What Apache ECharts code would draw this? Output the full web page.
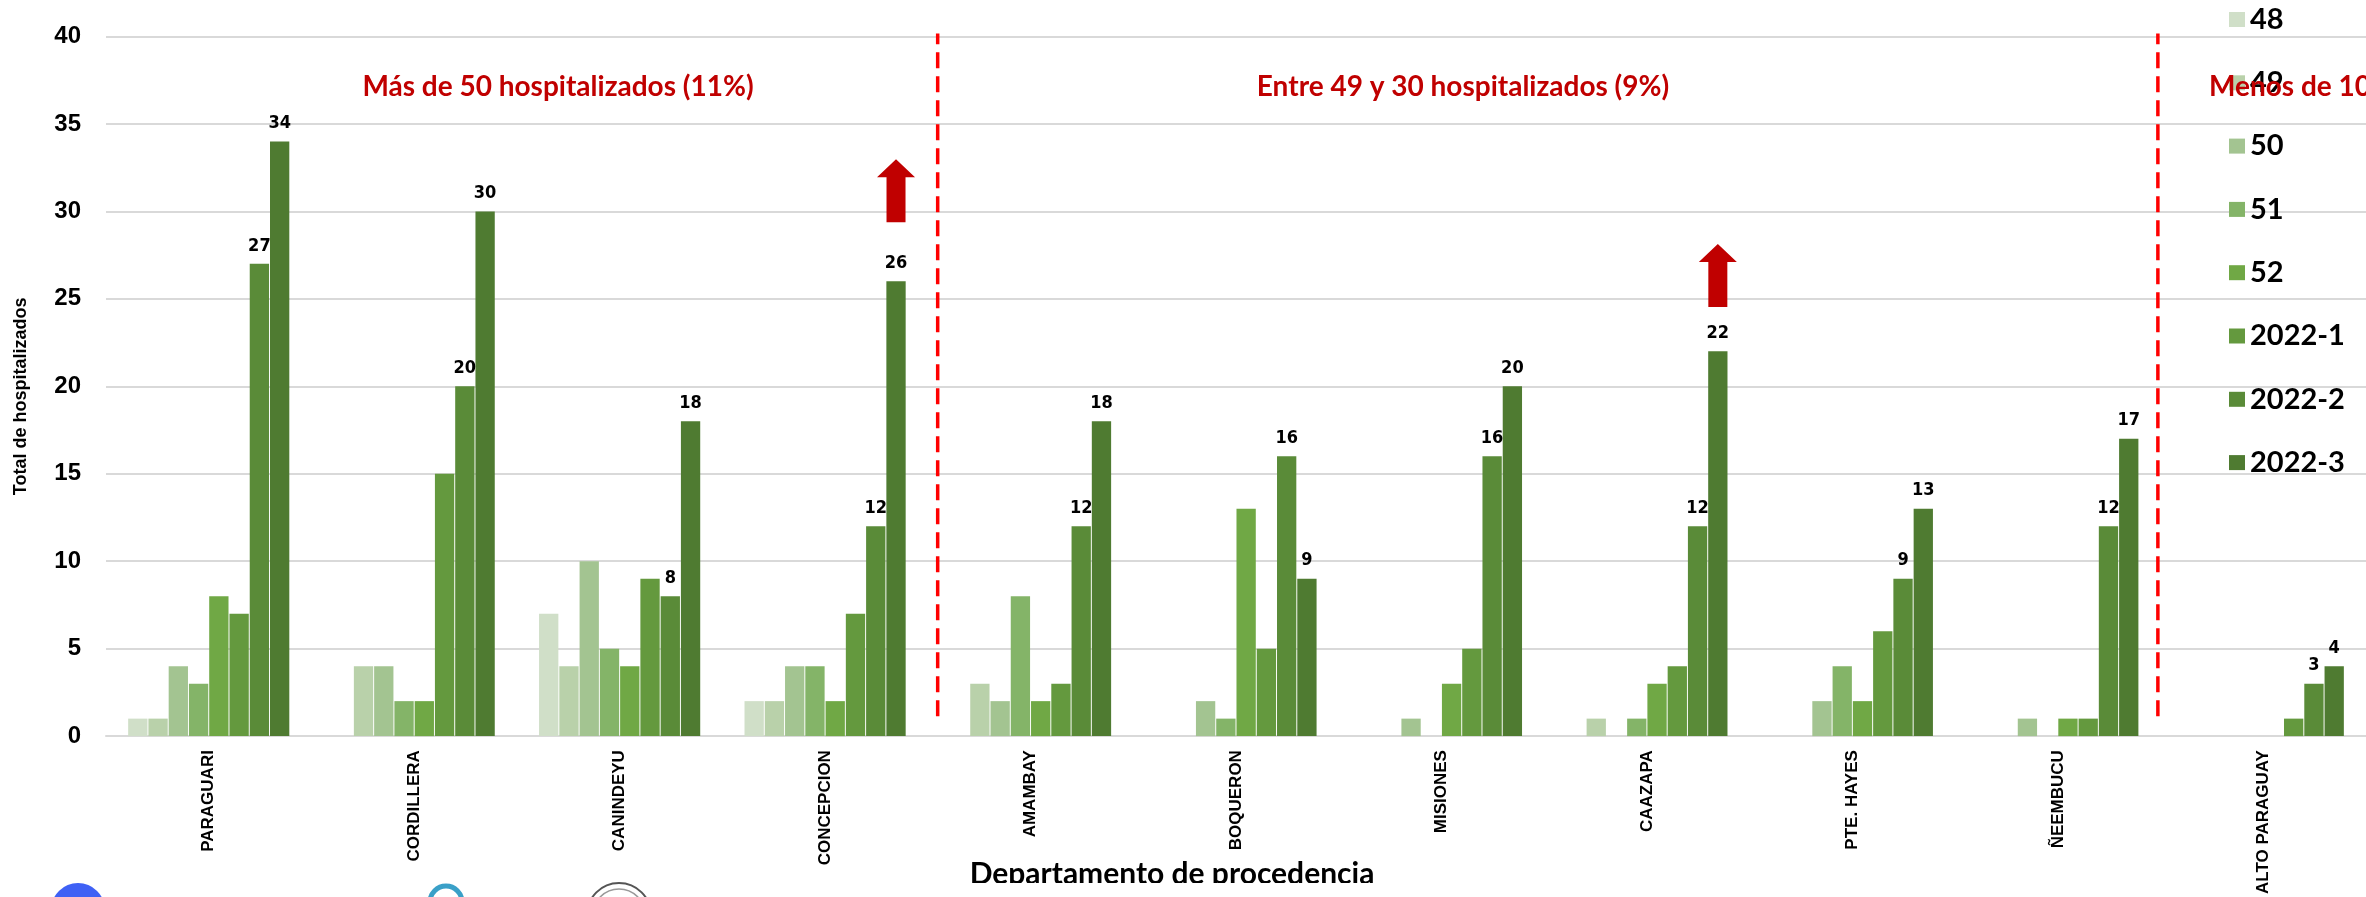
<!DOCTYPE html>
<html><head><meta charset="utf-8">
<script src="https://cdn.jsdelivr.net/npm/echarts@6/dist/echarts.min.js"></script>
<style>html,body{margin:0;padding:0;background:#fff}#c{width:2366px;height:897px}</style>
</head><body><div id="c"></div>
<script>
const categories = ['PARAGUARI','CORDILLERA','CANINDEYU','CONCEPCION','AMAMBAY','BOQUERON','MISIONES','CAAZAPA','PTE. HAYES','ÑEEMBUCU','ALTO PARAGUAY'];
const seriesNames = ['48','49','50','51','52','2022-1','2022-2','2022-3'];
const s48    = [1,0,7,2,0,0,0,0,0,0,0];
const s49    = [1,4,4,2,3,0,0,1,0,0,0];
const s50    = [4,4,10,4,2,2,1,0,2,1,0];
const s51    = [3,2,5,4,8,1,0,1,4,0,0];
const s52    = [8,2,4,2,2,13,3,3,2,1,0];
const s2022_1 = [7,15,9,7,3,5,5,4,6,1,1];
const s2022_2 = [27,20,8,12,12,16,16,12,9,12,3];
const s2022_3 = [34,30,18,26,18,9,20,22,13,17,4];
const seriesColors = ['#d0dfc8','#b9d1aa','#a3c491','#84b468','#70a845','#64993e','#5a8b38','#4f7b31'];
const labelledSeries = ['2022-2','2022-3'];
const yMin = 0, yMax = 40, yStep = 5;
const arrowPoints = [['CONCEPCION', 31.18], ['CAAZAPA', 26.33]];
const dividerX = [3.548, 9.487];
const dividerY = [1.14, 40.17];
const groupNotes = [
  {text:'Más de 50 hospitalizados (11%)', x:558, align:'center'},
  {text:'Entre 49 y 30 hospitalizados (9%)', x:1463, align:'center'},
  {text:'Menos de 10 hospitalizados', x:2209, align:'left'}
];

const allValues = [s48,s49,s50,s51,s52,s2022_1,s2022_2,s2022_3];
const narrow = "'Liberation Sans Narrow','DejaVu Sans Condensed','Arial Narrow',sans-serif";
const arrowPath = 'path://M19 0 L38 18 L28.5 18 L28.5 63 L9.5 63 L9.5 18 L0 18 Z';

const series = seriesNames.map((n,i)=>{
  const s = {
    name:n, type:'bar', data:allValues[i], xAxisIndex:0, yAxisIndex:0,
    barWidth:19.3, barGap:'5%',
    itemStyle:{color:seriesColors[i]},
    label:{show:labelledSeries.includes(n), position:'top', distance:9,
      fontFamily:narrow, fontWeight:'bold', fontSize:18, color:'#000'}
  };
  if (n === '2022-3') {
    s.markPoint = {
      symbol: arrowPath, symbolSize:[38,63], silent:true,
      itemStyle:{color:'#c00000'}, label:{show:false},
      data: arrowPoints.map(p=>({coord:p}))
    };
  }
  return s;
});
dividerX.forEach(x=>{
  series.push({
    type:'line', xAxisIndex:1, yAxisIndex:0, clip:false, silent:true,
    symbol:'none', z:5,
    lineStyle:{color:'#ff0000', width:3.5, type:[16,8]},
    data: dividerY.map(y=>[x, y])
  });
});

const graphics = groupNotes.map(g=>({
  type:'text', x:g.x, y:87, z:100,
  style:{text:g.text, fill:'#c00000', font:"bold 28px Lato", align:g.align, verticalAlign:'middle'}
}));
graphics.push({type:'text', x:1172, y:874, z:90,
  style:{text:'Departamento de procedencia', fill:'#000', font:"bold 30px Lato", align:'center', verticalAlign:'middle'}});
graphics.push({type:'rect', shape:{x:0,y:883,width:1500,height:14}, style:{fill:'#fff'}, z:95});
graphics.push({type:'circle', shape:{cx:78,cy:910,r:27}, style:{fill:'#3f61f5'}, z:96});
graphics.push({type:'circle', shape:{cx:446,cy:902,r:16}, style:{fill:'#fff', stroke:'#3aa0c8', lineWidth:5}, z:96});
graphics.push({type:'circle', shape:{cx:619,cy:915,r:32}, style:{fill:'#fff', stroke:'#555', lineWidth:2}, z:96});
graphics.push({type:'circle', shape:{cx:619,cy:915,r:26}, style:{fill:'none', stroke:'#999', lineWidth:1.5}, z:96});

const chart = echarts.init(document.getElementById('c'));
chart.setOption({
  animation:false,
  backgroundColor:'#fff',
  grid:{left:106, top:36.5, width:2264, height:701.5, containLabel:false},
  legend:{
    data:seriesNames, orient:'vertical', left:2224, top:0,
    itemWidth:16, itemHeight:15, itemGap:34.3, icon:'rect',
    textStyle:{fontFamily:'Lato', fontWeight:'bold', fontSize:29, color:'#000'}
  },
  xAxis:[{
    type:'category', data:categories,
    axisTick:{show:false},
    axisLine:{lineStyle:{color:'#d9d9d9', width:2}},
    axisLabel:{interval:0, rotate:90, margin:14, fontFamily:"'Liberation Sans',Arial,sans-serif",
      fontWeight:'bold', fontSize:17, color:'#000'}
  },{
    type:'value', min:-0.5, max:10.5, show:false
  }],
  yAxis:{
    type:'value', min:yMin, max:yMax, interval:yStep,
    name:'Total de hospitalizados', nameLocation:'middle', nameRotate:90, nameGap:76,
    nameTextStyle:{fontFamily:"'Liberation Sans',Arial,sans-serif", fontWeight:'bold', fontSize:18, color:'#000', padding:[0,20,0,0]},
    axisLine:{show:false}, axisTick:{show:false},
    axisLabel:{margin:25, fontFamily:"'Liberation Sans',Arial,sans-serif", fontWeight:'bold', fontSize:24, color:'#000'},
    splitLine:{lineStyle:{color:'#d9d9d9', width:2}}
  },
  graphic:graphics,
  series:series
});
</script></body></html>
